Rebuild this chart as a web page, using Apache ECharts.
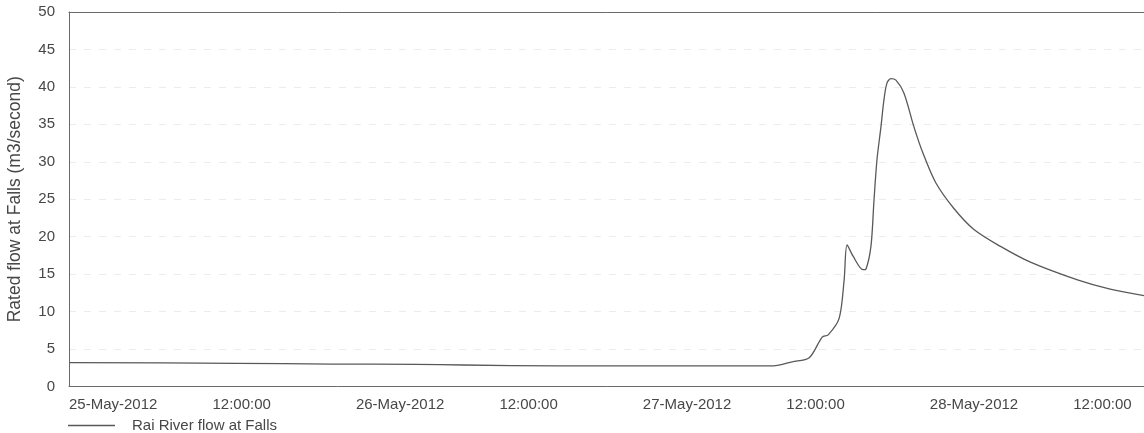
<!DOCTYPE html>
<html>
<head>
<meta charset="utf-8">
<title>Rai River flow at Falls</title>
<script src="https://cdn.jsdelivr.net/npm/echarts@6/dist/echarts.min.js"></script>
<style>
  html, body { margin: 0; padding: 0; background: #ffffff; }
  #chart { width: 1144px; height: 433px; }
</style>
</head>
<body>
<div id="chart"></div>
<script>
// Recorded flow, Rai River at Falls (UTC time stamps)
const sampleTimes = [
  '2012-05-25 00:00', '2012-05-25 14:00', '2012-05-25 22:00', '2012-05-26 05:00',
  '2012-05-26 09:00', '2012-05-26 17:00', '2012-05-27 10:55', '2012-05-27 12:30',
  '2012-05-27 13:55', '2012-05-27 15:00', '2012-05-27 15:30', '2012-05-27 16:25',
  '2012-05-27 16:50', '2012-05-27 17:05', '2012-05-27 17:35', '2012-05-27 18:25',
  '2012-05-27 18:40', '2012-05-27 19:05', '2012-05-27 19:20', '2012-05-27 19:35',
  '2012-05-27 19:55', '2012-05-27 20:10', '2012-05-27 20:25', '2012-05-27 20:45',
  '2012-05-27 21:10', '2012-05-27 21:50', '2012-05-27 22:40', '2012-05-27 23:25',
  '2012-05-28 00:30', '2012-05-28 02:00', '2012-05-28 03:40', '2012-05-28 05:55',
  '2012-05-28 08:25', '2012-05-28 12:25', '2012-05-28 15:05', '2012-05-28 18:00'
];
const flowValues = [
  3.2, 3.1, 3.0, 2.95,
  2.87, 2.75, 2.75, 3.3,
  3.85, 6.6, 6.9, 9.1,
  14.2, 18.9, 17.4, 15.6,
  15.7, 18.8, 24.9, 30.3,
  34.7, 38.3, 40.5, 41.1,
  40.9, 39.2, 34.7, 31.2,
  27.2, 23.8, 21.0, 18.7,
  16.6, 14.2, 13.0, 12.1
];
const yTicks = { min: 0, max: 50, step: 5 };
const seriesName = 'Rai River flow at Falls';
const yTitle = 'Rated flow at Falls (m3/second)';
const monthNames = ['Jan','Feb','Mar','Apr','May','Jun','Jul','Aug','Sep','Oct','Nov','Dec'];

const HOUR = 3600 * 1000;
const xStart = Date.UTC(2012, 4, 25, 0, 0);
const xEnd = Date.UTC(2012, 4, 28, 18, 0);

function parseUTC(s) {
  const [d, t] = s.split(' ');
  const [y, m, day] = d.split('-').map(Number);
  const [hh, mm] = t.split(':').map(Number);
  return Date.UTC(y, m - 1, day, hh, mm);
}
function pad(n) { return (n < 10 ? '0' : '') + n; }
function formatTick(v) {
  const d = new Date(v);
  if (d.getUTCHours() === 0 && d.getUTCMinutes() === 0) {
    return pad(d.getUTCDate()) + '-' + monthNames[d.getUTCMonth()] + '-' + d.getUTCFullYear();
  }
  return pad(d.getUTCHours()) + ':' + pad(d.getUTCMinutes()) + ':' + pad(d.getUTCSeconds());
}

const points = sampleTimes.map((t, i) => [parseUTC(t), flowValues[i]]);

const frameColor = '#6a6a6a';
const textColor = '#474747';
const lineColor = '#595959';
const font = 'Liberation Sans, Arial, sans-serif';

const chart = echarts.init(document.getElementById('chart'), null, { renderer: 'canvas' });
chart.setOption({
  animation: false,
  backgroundColor: '#ffffff',
  grid: { left: 69, top: 12, right: -1, bottom: 46.5, containLabel: false, outerBoundsMode: 'none' },
  legend: {
    data: [seriesName],
    left: 68,
    top: 418,
    padding: 0,
    icon: 'rect',
    itemWidth: 47,
    itemHeight: 1.3,
    itemStyle: { color: lineColor, borderWidth: 0 },
    textStyle: { fontFamily: font, fontSize: 15, color: textColor, padding: [0, 0, 0, 12] }
  },
  xAxis: [{
    type: 'value',
    min: xStart,
    max: xEnd,
    interval: 12 * HOUR,
    axisLine: { show: true, lineStyle: { color: frameColor, width: 1 } },
    axisTick: { show: false },
    splitLine: { show: false },
    axisLabel: {
      formatter: formatTick,
      align: 'left',
      margin: 11,
      showMaxLabel: false,
      fontFamily: font,
      fontSize: 15,
      color: textColor
    }
  }, {
    type: 'value',
    position: 'top',
    min: xStart,
    max: xEnd,
    interval: 12 * HOUR,
    axisLine: { show: true, onZero: false, lineStyle: { color: frameColor, width: 1 } },
    axisTick: { show: false },
    axisLabel: { show: false },
    splitLine: { show: false }
  }],
  yAxis: {
    type: 'value',
    min: yTicks.min,
    max: yTicks.max,
    interval: yTicks.step,
    name: yTitle,
    nameLocation: 'middle',
    nameGap: 45,
    nameTextStyle: { fontFamily: font, fontSize: 17.5, color: textColor },
    axisLine: { show: true, lineStyle: { color: frameColor, width: 1 } },
    axisTick: { show: false },
    axisLabel: { margin: 14, fontFamily: font, fontSize: 15, color: textColor },
    splitLine: { show: true, lineStyle: { color: '#ececec', type: [7, 8], width: 1 } }
  },
  series: [{
    name: seriesName,
    type: 'line',
    xAxisIndex: 0,
    data: points,
    symbol: 'none',
    showSymbol: false,
    smooth: 0.3,
    lineStyle: { color: lineColor, width: 1.3 },
    itemStyle: { color: lineColor }
  }]
});
</script>
</body>
</html>
